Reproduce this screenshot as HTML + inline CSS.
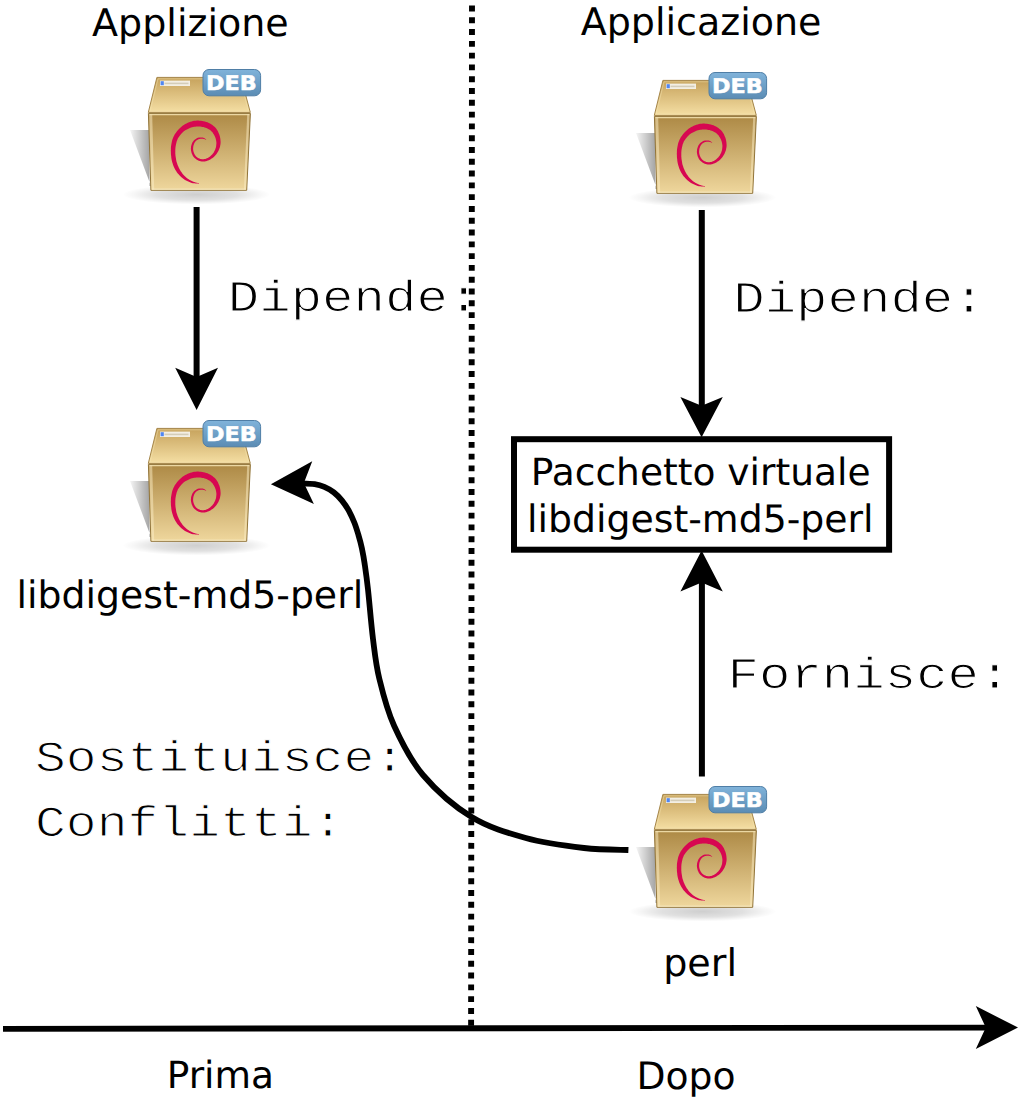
<!DOCTYPE html>
<html lang="it">
<head>
<meta charset="utf-8">
<title>Pacchetto virtuale libdigest-md5-perl</title>
<style>
html,body{margin:0;padding:0;background:#fff;}
svg{display:block;}
text{text-rendering:geometricPrecision;}
</style>
</head>
<body>
<svg width="1024" height="1101" viewBox="0 0 1024 1101">
<defs>
  <radialGradient id="gsh" cx="0.5" cy="0.5" r="0.5">
    <stop offset="0" stop-color="#000" stop-opacity="0.19"/>
    <stop offset="0.55" stop-color="#000" stop-opacity="0.12"/>
    <stop offset="0.85" stop-color="#000" stop-opacity="0.035"/>
    <stop offset="1" stop-color="#000" stop-opacity="0"/>
  </radialGradient>
  <linearGradient id="gls" x1="0" y1="0" x2="1" y2="0">
    <stop offset="0" stop-color="#000" stop-opacity="0.04"/>
    <stop offset="1" stop-color="#000" stop-opacity="0.38"/>
  </linearGradient>
  <linearGradient id="gtop" x1="0" y1="0" x2="0" y2="1">
    <stop offset="0" stop-color="#c6a25c"/>
    <stop offset="1" stop-color="#f5dfa4"/>
  </linearGradient>
  <linearGradient id="gfront" x1="0" y1="0" x2="0" y2="1">
    <stop offset="0" stop-color="#ad8945"/>
    <stop offset="1" stop-color="#efd79d"/>
  </linearGradient>
  <linearGradient id="gbadge" x1="0" y1="0" x2="0" y2="1">
    <stop offset="0" stop-color="#80b3da"/>
    <stop offset="1" stop-color="#5b8cb4"/>
  </linearGradient>
</defs>
<rect width="1024" height="1101" fill="#fff"/>

<!-- monospace labels -->
<text transform="translate(227.8,311.4) scale(1,0.84)" font-family="'Liberation Mono', 'DejaVu Sans Mono', monospace" font-size="52.4" fill="#000" stroke="#fff" stroke-width="1.3">Dipende:</text>
<text transform="translate(733.2,311.6) scale(1,0.84)" font-family="'Liberation Mono', 'DejaVu Sans Mono', monospace" font-size="52.4" fill="#000" stroke="#fff" stroke-width="1.3">Dipende:</text>
<text transform="translate(727.5,688) scale(1,0.84)" font-family="'Liberation Mono', 'DejaVu Sans Mono', monospace" font-size="52.4" fill="#000" stroke="#fff" stroke-width="1.3">Fornisce:</text>
<text transform="translate(35,771) scale(1,0.84)" font-family="'Liberation Mono', 'DejaVu Sans Mono', monospace" font-size="51.4" fill="#000" stroke="#fff" stroke-width="1.3">Sostituisce:</text>
<text transform="translate(35,836) scale(1,0.84)" font-family="'Liberation Mono', 'DejaVu Sans Mono', monospace" font-size="51.4" fill="#000" stroke="#fff" stroke-width="1.3">Conflitti:</text>

<!-- dotted separator -->
<line x1="472" y1="5.5" x2="471.1" y2="1028" stroke="#000" stroke-width="5.9" stroke-dasharray="5.9 5.894"/>

<!-- time axis -->
<line x1="3" y1="1028.9" x2="990" y2="1027.6" stroke="#000" stroke-width="5.9"/>
<polygon transform="translate(1018,1027.5) rotate(0)" points="0,0 -42.2,-21.4 -32.2,0 -42.2,21.4" fill="#000"/>

<!-- sans labels -->
<text x="92.1" y="35.5" font-family="'DejaVu Sans', 'Liberation Sans', sans-serif" font-size="38" text-anchor="start" fill="#000">Applizione</text>
<text x="580.7" y="35" font-family="'DejaVu Sans', 'Liberation Sans', sans-serif" font-size="38" text-anchor="start" fill="#000">Applicazione</text>
<text x="16.5" y="607.5" font-family="'DejaVu Sans', 'Liberation Sans', sans-serif" font-size="37.8" text-anchor="start" fill="#000">libdigest-md5-perl</text>
<text x="700.7" y="484.8" font-family="'DejaVu Sans', 'Liberation Sans', sans-serif" font-size="37.56" text-anchor="middle" fill="#000">Pacchetto virtuale</text>
<text x="700.3" y="531.5" font-family="'DejaVu Sans', 'Liberation Sans', sans-serif" font-size="37.8" text-anchor="middle" fill="#000">libdigest-md5-perl</text>
<text x="663.2" y="975.6" font-family="'DejaVu Sans', 'Liberation Sans', sans-serif" font-size="38.1" text-anchor="start" fill="#000">perl</text>
<text x="166.7" y="1088.1" font-family="'DejaVu Sans', 'Liberation Sans', sans-serif" font-size="37.5" text-anchor="start" fill="#000">Prima</text>
<text x="636.4" y="1089" font-family="'DejaVu Sans', 'Liberation Sans', sans-serif" font-size="37.7" text-anchor="start" fill="#000">Dopo</text>

<!-- virtual package box -->
<rect x="514" y="439.2" width="375.1" height="110.5" fill="none" stroke="#000" stroke-width="6"/>

<!-- arrows -->
<line x1="196.6" y1="207" x2="196.6" y2="380" stroke="#000" stroke-width="6"/>
<polygon transform="translate(196.6,410) rotate(90)" points="0,0 -42.2,-21.4 -33.0,0 -42.2,21.4" fill="#000"/>
<line x1="701.8" y1="210" x2="701.8" y2="412" stroke="#000" stroke-width="6"/>
<polygon transform="translate(701.6,437.3) rotate(90)" points="0,0 -40.4,-21.2 -31.599999999999998,0 -40.4,21.2" fill="#000"/>
<line x1="701.9" y1="776.4" x2="701.9" y2="576" stroke="#000" stroke-width="6"/>
<polygon transform="translate(701.6,550.5) rotate(-90)" points="0,0 -40.9,-21.2 -32.099999999999994,0 -40.9,21.2" fill="#000"/>
<path d="M628.4,850.0 C621.0,849.7 601.1,850.0 584.0,848.0 C566.9,846.0 544.5,843.2 525.8,838.0 C507.1,832.8 488.7,827.5 471.6,817.0 C454.5,806.5 435.9,790.2 423.0,775.0 C410.1,759.8 401.3,741.6 394.0,725.5 C386.7,709.4 382.8,693.0 379.3,678.6 C375.8,664.2 374.9,653.9 373.0,639.0 C371.1,624.1 369.4,602.1 368.0,589.5 C366.6,576.9 365.6,570.4 364.6,563.5 C363.6,556.6 362.9,553.2 361.9,548.4 C360.9,543.6 359.7,539.1 358.4,534.8 C357.1,530.5 355.9,526.5 354.3,522.5 C352.7,518.5 350.9,514.5 348.9,510.8 C346.8,507.2 344.5,503.7 342.0,500.6 C339.5,497.5 336.8,494.7 333.8,492.4 C330.9,490.1 327.5,488.3 324.3,486.9 C321.1,485.5 318.8,484.8 314.7,484.2 C310.6,483.6 302.4,483.4 300.0,483.3" fill="none" stroke="#000" stroke-width="5.8"/>
<polygon transform="translate(270.9,484.2) rotate(177.8)" points="0,0 -42.2,-21.4 -33.0,0 -42.2,21.4" fill="#000"/>

<!-- package icons -->

<g transform="translate(0,0)">
  <ellipse cx="196.5" cy="194.5" rx="74" ry="10" fill="url(#gsh)"/>
  <polygon points="130,130 149.5,130 149.5,186 151,186" fill="url(#gls)"/>
  <polygon points="156.9,77.4 241,77.4 250.3,112.4 148.3,112.4" fill="url(#gtop)" stroke="#a5864a" stroke-width="1" stroke-linejoin="round"/>
  <polygon points="158,78.8 240,78.8 248.6,111.2 150,111.2" fill="none" stroke="#f7e6b4" stroke-opacity="0.45" stroke-width="1"/>
  <polygon points="148.4,113.4 250.4,113.4 246.7,190.3 150.9,190.3" fill="url(#gfront)" stroke="#92753a" stroke-width="1" stroke-linejoin="round"/>
  <polygon points="149.2,114.2 152.2,114.2 154.2,189.5 151.6,189.5" fill="#fbeec6" fill-opacity="0.5"/>
  <polygon points="249.6,114.2 247.2,114.2 243.9,189.5 246,189.5" fill="#fbeec6" fill-opacity="0.5"/>
  <line x1="149.4" y1="114.6" x2="249.4" y2="114.6" stroke="#f6e4b4" stroke-opacity="0.85" stroke-width="1.1"/>
  <line x1="151.8" y1="189.2" x2="245.8" y2="189.2" stroke="#fbefcb" stroke-opacity="0.85" stroke-width="1"/>
  <rect x="160" y="80.6" width="30" height="5.4" fill="#f3efe4"/>
  <rect x="160.6" y="81.2" width="3.2" height="4" fill="#4f86f2"/>
  <rect x="164.5" y="82.6" width="24" height="1.6" fill="#d4cdb8"/>
  <path d="M206.2,139.3 L205.6,139.0 L205.1,138.7 L204.6,138.3 L204.0,138.0 L203.4,137.7 L202.7,137.6 L201.9,137.4 L201.2,137.4 L200.4,137.4 L199.6,137.5 L198.8,137.6 L198.0,137.8 L197.2,138.1 L196.5,138.5 L195.7,138.9 L195.0,139.4 L194.3,140.0 L193.6,140.7 L193.1,141.5 L192.5,142.3 L192.1,143.3 L191.7,144.2 L191.4,145.2 L191.1,146.2 L191.0,147.2 L190.9,148.2 L190.9,149.2 L191.0,150.2 L191.2,151.2 L191.4,152.1 L191.6,153.0 L192.0,153.9 L192.4,154.8 L192.8,155.7 L193.3,156.5 L193.9,157.2 L194.6,157.9 L195.3,158.6 L196.1,159.2 L196.9,159.8 L197.8,160.3 L198.7,160.7 L199.6,161.0 L200.6,161.2 L201.6,161.4 L202.6,161.5 L203.7,161.5 L204.7,161.4 L205.7,161.3 L206.8,161.0 L207.8,160.6 L208.8,160.2 L209.8,159.7 L210.7,159.2 L211.6,158.6 L212.6,158.0 L213.5,157.2 L214.3,156.5 L215.2,155.6 L215.9,154.7 L216.7,153.8 L217.3,152.8 L217.9,151.8 L218.5,150.7 L219.0,149.6 L219.4,148.5 L219.8,147.4 L220.1,146.2 L220.3,145.1 L220.5,143.9 L220.6,142.8 L220.6,141.6 L220.5,140.4 L220.4,139.2 L220.2,138.0 L220.0,136.9 L219.7,135.7 L219.3,134.5 L218.8,133.4 L218.3,132.3 L217.8,131.1 L217.1,130.0 L216.3,128.8 L215.5,127.8 L214.5,126.8 L213.5,125.9 L212.4,125.0 L211.2,124.2 L210.0,123.5 L208.8,122.9 L207.5,122.3 L206.2,121.9 L204.9,121.5 L203.5,121.2 L202.2,121.0 L200.9,120.8 L199.6,120.7 L198.3,120.6 L197.0,120.6 L195.7,120.7 L194.4,120.8 L193.0,121.1 L191.7,121.4 L190.4,121.8 L189.1,122.2 L187.8,122.8 L186.5,123.4 L185.3,124.0 L184.1,124.8 L182.9,125.6 L181.7,126.4 L180.6,127.4 L179.5,128.4 L178.5,129.4 L177.6,130.5 L176.6,131.7 L175.8,132.9 L174.9,134.1 L174.2,135.4 L173.5,136.8 L172.9,138.2 L172.4,139.6 L172.0,141.0 L171.7,142.4 L171.4,143.9 L171.2,145.2 L171.0,146.6 L170.9,148.0 L170.9,149.4 L170.8,150.8 L170.9,152.2 L170.9,153.5 L171.0,154.9 L171.2,156.3 L171.3,157.7 L171.5,159.0 L171.8,160.4 L172.1,161.7 L172.5,163.0 L172.9,164.3 L173.3,165.6 L173.8,166.8 L174.4,168.0 L175.0,169.2 L175.6,170.3 L176.3,171.3 L177.0,172.4 L177.8,173.4 L178.6,174.3 L179.4,175.2 L180.2,176.1 L181.1,176.9 L182.1,177.7 L183.0,178.5 L184.0,179.2 L185.0,179.9 L186.1,180.5 L187.1,181.1 L188.3,181.6 L189.4,182.1 L190.6,182.5 L191.8,182.9 L193.0,183.2 L194.2,183.3 L195.4,183.4 L196.6,183.5 L197.8,183.6 L199.0,183.7 L199.1,183.3 L197.9,183.0 L196.8,182.7 L195.6,182.4 L194.4,182.0 L193.4,181.7 L192.3,181.3 L191.3,180.8 L190.3,180.2 L189.3,179.7 L188.3,179.0 L187.4,178.4 L186.5,177.7 L185.7,177.0 L184.9,176.3 L184.1,175.5 L183.4,174.7 L182.7,173.9 L182.0,173.0 L181.4,172.1 L180.7,171.2 L180.2,170.3 L179.6,169.3 L179.1,168.3 L178.6,167.3 L178.2,166.3 L177.7,165.2 L177.3,164.1 L177.0,163.0 L176.6,161.9 L176.3,160.7 L176.1,159.5 L175.9,158.3 L175.7,157.1 L175.5,155.8 L175.4,154.5 L175.3,153.3 L175.3,152.0 L175.3,150.8 L175.3,149.6 L175.4,148.4 L175.5,147.1 L175.7,145.9 L175.9,144.7 L176.2,143.4 L176.5,142.2 L176.8,141.0 L177.3,139.9 L177.7,138.8 L178.3,137.7 L179.0,136.7 L179.7,135.7 L180.5,134.7 L181.3,133.7 L182.1,132.9 L183.0,132.1 L183.9,131.3 L184.9,130.6 L185.8,130.0 L186.9,129.4 L187.9,128.9 L188.9,128.4 L189.9,128.0 L191.0,127.6 L192.0,127.3 L193.1,127.0 L194.1,126.8 L195.2,126.7 L196.2,126.6 L197.2,126.5 L198.2,126.5 L199.3,126.6 L200.3,126.6 L201.4,126.8 L202.5,126.9 L203.6,127.1 L204.6,127.4 L205.6,127.7 L206.5,128.0 L207.4,128.4 L208.3,128.9 L209.2,129.5 L210.1,130.1 L210.9,130.7 L211.6,131.4 L212.2,132.1 L212.8,132.8 L213.3,133.7 L213.9,134.5 L214.4,135.4 L214.8,136.3 L215.2,137.2 L215.5,138.1 L215.8,139.0 L216.0,140.0 L216.2,140.9 L216.3,141.8 L216.4,142.7 L216.4,143.6 L216.3,144.6 L216.2,145.5 L216.1,146.5 L215.9,147.4 L215.6,148.3 L215.3,149.3 L214.9,150.2 L214.4,151.1 L214.0,152.0 L213.4,152.9 L212.9,153.6 L212.2,154.4 L211.5,155.1 L210.8,155.8 L210.0,156.4 L209.3,157.0 L208.5,157.5 L207.7,157.9 L206.8,158.3 L206.0,158.7 L205.2,158.9 L204.4,159.1 L203.5,159.2 L202.7,159.2 L201.9,159.2 L201.0,159.1 L200.2,158.9 L199.5,158.6 L198.7,158.3 L198.0,157.9 L197.4,157.5 L196.7,157.0 L196.1,156.4 L195.6,155.8 L195.1,155.2 L194.7,154.6 L194.3,153.8 L194.0,153.1 L193.7,152.3 L193.5,151.6 L193.3,150.8 L193.2,149.9 L193.1,149.1 L193.1,148.2 L193.2,147.4 L193.3,146.6 L193.4,145.8 L193.7,144.9 L194.0,144.1 L194.3,143.3 L194.7,142.5 L195.1,141.9 L195.6,141.3 L196.1,140.8 L196.7,140.3 L197.3,139.9 L197.9,139.6 L198.6,139.3 L199.2,139.1 L199.8,138.9 L200.5,138.8 L201.2,138.8 L201.9,138.8 L202.5,138.8 L203.1,138.8 L203.6,139.0 L204.2,139.1 L204.8,139.3 L205.4,139.5 L206.0,139.7Z" fill="#d70751"/>
  <rect x="203" y="69.5" width="57.6" height="26.3" rx="6" ry="6" fill="url(#gbadge)" stroke="#4f7ea6" stroke-width="1"/>
  <text transform="translate(205.9,89.7) scale(1.10,1)" font-family="'DejaVu Sans', 'Liberation Sans', sans-serif" font-weight="bold" font-size="20.3" fill="#fff" stroke="#fff" stroke-width="0.5">DEB</text>
</g>

<g transform="translate(0,351)">
  <ellipse cx="196.5" cy="194.5" rx="74" ry="10" fill="url(#gsh)"/>
  <polygon points="130,130 149.5,130 149.5,186 151,186" fill="url(#gls)"/>
  <polygon points="156.9,77.4 241,77.4 250.3,112.4 148.3,112.4" fill="url(#gtop)" stroke="#a5864a" stroke-width="1" stroke-linejoin="round"/>
  <polygon points="158,78.8 240,78.8 248.6,111.2 150,111.2" fill="none" stroke="#f7e6b4" stroke-opacity="0.45" stroke-width="1"/>
  <polygon points="148.4,113.4 250.4,113.4 246.7,190.3 150.9,190.3" fill="url(#gfront)" stroke="#92753a" stroke-width="1" stroke-linejoin="round"/>
  <polygon points="149.2,114.2 152.2,114.2 154.2,189.5 151.6,189.5" fill="#fbeec6" fill-opacity="0.5"/>
  <polygon points="249.6,114.2 247.2,114.2 243.9,189.5 246,189.5" fill="#fbeec6" fill-opacity="0.5"/>
  <line x1="149.4" y1="114.6" x2="249.4" y2="114.6" stroke="#f6e4b4" stroke-opacity="0.85" stroke-width="1.1"/>
  <line x1="151.8" y1="189.2" x2="245.8" y2="189.2" stroke="#fbefcb" stroke-opacity="0.85" stroke-width="1"/>
  <rect x="160" y="80.6" width="30" height="5.4" fill="#f3efe4"/>
  <rect x="160.6" y="81.2" width="3.2" height="4" fill="#4f86f2"/>
  <rect x="164.5" y="82.6" width="24" height="1.6" fill="#d4cdb8"/>
  <path d="M206.2,139.3 L205.6,139.0 L205.1,138.7 L204.6,138.3 L204.0,138.0 L203.4,137.7 L202.7,137.6 L201.9,137.4 L201.2,137.4 L200.4,137.4 L199.6,137.5 L198.8,137.6 L198.0,137.8 L197.2,138.1 L196.5,138.5 L195.7,138.9 L195.0,139.4 L194.3,140.0 L193.6,140.7 L193.1,141.5 L192.5,142.3 L192.1,143.3 L191.7,144.2 L191.4,145.2 L191.1,146.2 L191.0,147.2 L190.9,148.2 L190.9,149.2 L191.0,150.2 L191.2,151.2 L191.4,152.1 L191.6,153.0 L192.0,153.9 L192.4,154.8 L192.8,155.7 L193.3,156.5 L193.9,157.2 L194.6,157.9 L195.3,158.6 L196.1,159.2 L196.9,159.8 L197.8,160.3 L198.7,160.7 L199.6,161.0 L200.6,161.2 L201.6,161.4 L202.6,161.5 L203.7,161.5 L204.7,161.4 L205.7,161.3 L206.8,161.0 L207.8,160.6 L208.8,160.2 L209.8,159.7 L210.7,159.2 L211.6,158.6 L212.6,158.0 L213.5,157.2 L214.3,156.5 L215.2,155.6 L215.9,154.7 L216.7,153.8 L217.3,152.8 L217.9,151.8 L218.5,150.7 L219.0,149.6 L219.4,148.5 L219.8,147.4 L220.1,146.2 L220.3,145.1 L220.5,143.9 L220.6,142.8 L220.6,141.6 L220.5,140.4 L220.4,139.2 L220.2,138.0 L220.0,136.9 L219.7,135.7 L219.3,134.5 L218.8,133.4 L218.3,132.3 L217.8,131.1 L217.1,130.0 L216.3,128.8 L215.5,127.8 L214.5,126.8 L213.5,125.9 L212.4,125.0 L211.2,124.2 L210.0,123.5 L208.8,122.9 L207.5,122.3 L206.2,121.9 L204.9,121.5 L203.5,121.2 L202.2,121.0 L200.9,120.8 L199.6,120.7 L198.3,120.6 L197.0,120.6 L195.7,120.7 L194.4,120.8 L193.0,121.1 L191.7,121.4 L190.4,121.8 L189.1,122.2 L187.8,122.8 L186.5,123.4 L185.3,124.0 L184.1,124.8 L182.9,125.6 L181.7,126.4 L180.6,127.4 L179.5,128.4 L178.5,129.4 L177.6,130.5 L176.6,131.7 L175.8,132.9 L174.9,134.1 L174.2,135.4 L173.5,136.8 L172.9,138.2 L172.4,139.6 L172.0,141.0 L171.7,142.4 L171.4,143.9 L171.2,145.2 L171.0,146.6 L170.9,148.0 L170.9,149.4 L170.8,150.8 L170.9,152.2 L170.9,153.5 L171.0,154.9 L171.2,156.3 L171.3,157.7 L171.5,159.0 L171.8,160.4 L172.1,161.7 L172.5,163.0 L172.9,164.3 L173.3,165.6 L173.8,166.8 L174.4,168.0 L175.0,169.2 L175.6,170.3 L176.3,171.3 L177.0,172.4 L177.8,173.4 L178.6,174.3 L179.4,175.2 L180.2,176.1 L181.1,176.9 L182.1,177.7 L183.0,178.5 L184.0,179.2 L185.0,179.9 L186.1,180.5 L187.1,181.1 L188.3,181.6 L189.4,182.1 L190.6,182.5 L191.8,182.9 L193.0,183.2 L194.2,183.3 L195.4,183.4 L196.6,183.5 L197.8,183.6 L199.0,183.7 L199.1,183.3 L197.9,183.0 L196.8,182.7 L195.6,182.4 L194.4,182.0 L193.4,181.7 L192.3,181.3 L191.3,180.8 L190.3,180.2 L189.3,179.7 L188.3,179.0 L187.4,178.4 L186.5,177.7 L185.7,177.0 L184.9,176.3 L184.1,175.5 L183.4,174.7 L182.7,173.9 L182.0,173.0 L181.4,172.1 L180.7,171.2 L180.2,170.3 L179.6,169.3 L179.1,168.3 L178.6,167.3 L178.2,166.3 L177.7,165.2 L177.3,164.1 L177.0,163.0 L176.6,161.9 L176.3,160.7 L176.1,159.5 L175.9,158.3 L175.7,157.1 L175.5,155.8 L175.4,154.5 L175.3,153.3 L175.3,152.0 L175.3,150.8 L175.3,149.6 L175.4,148.4 L175.5,147.1 L175.7,145.9 L175.9,144.7 L176.2,143.4 L176.5,142.2 L176.8,141.0 L177.3,139.9 L177.7,138.8 L178.3,137.7 L179.0,136.7 L179.7,135.7 L180.5,134.7 L181.3,133.7 L182.1,132.9 L183.0,132.1 L183.9,131.3 L184.9,130.6 L185.8,130.0 L186.9,129.4 L187.9,128.9 L188.9,128.4 L189.9,128.0 L191.0,127.6 L192.0,127.3 L193.1,127.0 L194.1,126.8 L195.2,126.7 L196.2,126.6 L197.2,126.5 L198.2,126.5 L199.3,126.6 L200.3,126.6 L201.4,126.8 L202.5,126.9 L203.6,127.1 L204.6,127.4 L205.6,127.7 L206.5,128.0 L207.4,128.4 L208.3,128.9 L209.2,129.5 L210.1,130.1 L210.9,130.7 L211.6,131.4 L212.2,132.1 L212.8,132.8 L213.3,133.7 L213.9,134.5 L214.4,135.4 L214.8,136.3 L215.2,137.2 L215.5,138.1 L215.8,139.0 L216.0,140.0 L216.2,140.9 L216.3,141.8 L216.4,142.7 L216.4,143.6 L216.3,144.6 L216.2,145.5 L216.1,146.5 L215.9,147.4 L215.6,148.3 L215.3,149.3 L214.9,150.2 L214.4,151.1 L214.0,152.0 L213.4,152.9 L212.9,153.6 L212.2,154.4 L211.5,155.1 L210.8,155.8 L210.0,156.4 L209.3,157.0 L208.5,157.5 L207.7,157.9 L206.8,158.3 L206.0,158.7 L205.2,158.9 L204.4,159.1 L203.5,159.2 L202.7,159.2 L201.9,159.2 L201.0,159.1 L200.2,158.9 L199.5,158.6 L198.7,158.3 L198.0,157.9 L197.4,157.5 L196.7,157.0 L196.1,156.4 L195.6,155.8 L195.1,155.2 L194.7,154.6 L194.3,153.8 L194.0,153.1 L193.7,152.3 L193.5,151.6 L193.3,150.8 L193.2,149.9 L193.1,149.1 L193.1,148.2 L193.2,147.4 L193.3,146.6 L193.4,145.8 L193.7,144.9 L194.0,144.1 L194.3,143.3 L194.7,142.5 L195.1,141.9 L195.6,141.3 L196.1,140.8 L196.7,140.3 L197.3,139.9 L197.9,139.6 L198.6,139.3 L199.2,139.1 L199.8,138.9 L200.5,138.8 L201.2,138.8 L201.9,138.8 L202.5,138.8 L203.1,138.8 L203.6,139.0 L204.2,139.1 L204.8,139.3 L205.4,139.5 L206.0,139.7Z" fill="#d70751"/>
  <rect x="203" y="69.5" width="57.6" height="26.3" rx="6" ry="6" fill="url(#gbadge)" stroke="#4f7ea6" stroke-width="1"/>
  <text transform="translate(205.9,89.7) scale(1.10,1)" font-family="'DejaVu Sans', 'Liberation Sans', sans-serif" font-weight="bold" font-size="20.3" fill="#fff" stroke="#fff" stroke-width="0.5">DEB</text>
</g>

<g transform="translate(506,3)">
  <ellipse cx="196.5" cy="194.5" rx="74" ry="10" fill="url(#gsh)"/>
  <polygon points="130,130 149.5,130 149.5,186 151,186" fill="url(#gls)"/>
  <polygon points="156.9,77.4 241,77.4 250.3,112.4 148.3,112.4" fill="url(#gtop)" stroke="#a5864a" stroke-width="1" stroke-linejoin="round"/>
  <polygon points="158,78.8 240,78.8 248.6,111.2 150,111.2" fill="none" stroke="#f7e6b4" stroke-opacity="0.45" stroke-width="1"/>
  <polygon points="148.4,113.4 250.4,113.4 246.7,190.3 150.9,190.3" fill="url(#gfront)" stroke="#92753a" stroke-width="1" stroke-linejoin="round"/>
  <polygon points="149.2,114.2 152.2,114.2 154.2,189.5 151.6,189.5" fill="#fbeec6" fill-opacity="0.5"/>
  <polygon points="249.6,114.2 247.2,114.2 243.9,189.5 246,189.5" fill="#fbeec6" fill-opacity="0.5"/>
  <line x1="149.4" y1="114.6" x2="249.4" y2="114.6" stroke="#f6e4b4" stroke-opacity="0.85" stroke-width="1.1"/>
  <line x1="151.8" y1="189.2" x2="245.8" y2="189.2" stroke="#fbefcb" stroke-opacity="0.85" stroke-width="1"/>
  <rect x="160" y="80.6" width="30" height="5.4" fill="#f3efe4"/>
  <rect x="160.6" y="81.2" width="3.2" height="4" fill="#4f86f2"/>
  <rect x="164.5" y="82.6" width="24" height="1.6" fill="#d4cdb8"/>
  <path d="M206.2,139.3 L205.6,139.0 L205.1,138.7 L204.6,138.3 L204.0,138.0 L203.4,137.7 L202.7,137.6 L201.9,137.4 L201.2,137.4 L200.4,137.4 L199.6,137.5 L198.8,137.6 L198.0,137.8 L197.2,138.1 L196.5,138.5 L195.7,138.9 L195.0,139.4 L194.3,140.0 L193.6,140.7 L193.1,141.5 L192.5,142.3 L192.1,143.3 L191.7,144.2 L191.4,145.2 L191.1,146.2 L191.0,147.2 L190.9,148.2 L190.9,149.2 L191.0,150.2 L191.2,151.2 L191.4,152.1 L191.6,153.0 L192.0,153.9 L192.4,154.8 L192.8,155.7 L193.3,156.5 L193.9,157.2 L194.6,157.9 L195.3,158.6 L196.1,159.2 L196.9,159.8 L197.8,160.3 L198.7,160.7 L199.6,161.0 L200.6,161.2 L201.6,161.4 L202.6,161.5 L203.7,161.5 L204.7,161.4 L205.7,161.3 L206.8,161.0 L207.8,160.6 L208.8,160.2 L209.8,159.7 L210.7,159.2 L211.6,158.6 L212.6,158.0 L213.5,157.2 L214.3,156.5 L215.2,155.6 L215.9,154.7 L216.7,153.8 L217.3,152.8 L217.9,151.8 L218.5,150.7 L219.0,149.6 L219.4,148.5 L219.8,147.4 L220.1,146.2 L220.3,145.1 L220.5,143.9 L220.6,142.8 L220.6,141.6 L220.5,140.4 L220.4,139.2 L220.2,138.0 L220.0,136.9 L219.7,135.7 L219.3,134.5 L218.8,133.4 L218.3,132.3 L217.8,131.1 L217.1,130.0 L216.3,128.8 L215.5,127.8 L214.5,126.8 L213.5,125.9 L212.4,125.0 L211.2,124.2 L210.0,123.5 L208.8,122.9 L207.5,122.3 L206.2,121.9 L204.9,121.5 L203.5,121.2 L202.2,121.0 L200.9,120.8 L199.6,120.7 L198.3,120.6 L197.0,120.6 L195.7,120.7 L194.4,120.8 L193.0,121.1 L191.7,121.4 L190.4,121.8 L189.1,122.2 L187.8,122.8 L186.5,123.4 L185.3,124.0 L184.1,124.8 L182.9,125.6 L181.7,126.4 L180.6,127.4 L179.5,128.4 L178.5,129.4 L177.6,130.5 L176.6,131.7 L175.8,132.9 L174.9,134.1 L174.2,135.4 L173.5,136.8 L172.9,138.2 L172.4,139.6 L172.0,141.0 L171.7,142.4 L171.4,143.9 L171.2,145.2 L171.0,146.6 L170.9,148.0 L170.9,149.4 L170.8,150.8 L170.9,152.2 L170.9,153.5 L171.0,154.9 L171.2,156.3 L171.3,157.7 L171.5,159.0 L171.8,160.4 L172.1,161.7 L172.5,163.0 L172.9,164.3 L173.3,165.6 L173.8,166.8 L174.4,168.0 L175.0,169.2 L175.6,170.3 L176.3,171.3 L177.0,172.4 L177.8,173.4 L178.6,174.3 L179.4,175.2 L180.2,176.1 L181.1,176.9 L182.1,177.7 L183.0,178.5 L184.0,179.2 L185.0,179.9 L186.1,180.5 L187.1,181.1 L188.3,181.6 L189.4,182.1 L190.6,182.5 L191.8,182.9 L193.0,183.2 L194.2,183.3 L195.4,183.4 L196.6,183.5 L197.8,183.6 L199.0,183.7 L199.1,183.3 L197.9,183.0 L196.8,182.7 L195.6,182.4 L194.4,182.0 L193.4,181.7 L192.3,181.3 L191.3,180.8 L190.3,180.2 L189.3,179.7 L188.3,179.0 L187.4,178.4 L186.5,177.7 L185.7,177.0 L184.9,176.3 L184.1,175.5 L183.4,174.7 L182.7,173.9 L182.0,173.0 L181.4,172.1 L180.7,171.2 L180.2,170.3 L179.6,169.3 L179.1,168.3 L178.6,167.3 L178.2,166.3 L177.7,165.2 L177.3,164.1 L177.0,163.0 L176.6,161.9 L176.3,160.7 L176.1,159.5 L175.9,158.3 L175.7,157.1 L175.5,155.8 L175.4,154.5 L175.3,153.3 L175.3,152.0 L175.3,150.8 L175.3,149.6 L175.4,148.4 L175.5,147.1 L175.7,145.9 L175.9,144.7 L176.2,143.4 L176.5,142.2 L176.8,141.0 L177.3,139.9 L177.7,138.8 L178.3,137.7 L179.0,136.7 L179.7,135.7 L180.5,134.7 L181.3,133.7 L182.1,132.9 L183.0,132.1 L183.9,131.3 L184.9,130.6 L185.8,130.0 L186.9,129.4 L187.9,128.9 L188.9,128.4 L189.9,128.0 L191.0,127.6 L192.0,127.3 L193.1,127.0 L194.1,126.8 L195.2,126.7 L196.2,126.6 L197.2,126.5 L198.2,126.5 L199.3,126.6 L200.3,126.6 L201.4,126.8 L202.5,126.9 L203.6,127.1 L204.6,127.4 L205.6,127.7 L206.5,128.0 L207.4,128.4 L208.3,128.9 L209.2,129.5 L210.1,130.1 L210.9,130.7 L211.6,131.4 L212.2,132.1 L212.8,132.8 L213.3,133.7 L213.9,134.5 L214.4,135.4 L214.8,136.3 L215.2,137.2 L215.5,138.1 L215.8,139.0 L216.0,140.0 L216.2,140.9 L216.3,141.8 L216.4,142.7 L216.4,143.6 L216.3,144.6 L216.2,145.5 L216.1,146.5 L215.9,147.4 L215.6,148.3 L215.3,149.3 L214.9,150.2 L214.4,151.1 L214.0,152.0 L213.4,152.9 L212.9,153.6 L212.2,154.4 L211.5,155.1 L210.8,155.8 L210.0,156.4 L209.3,157.0 L208.5,157.5 L207.7,157.9 L206.8,158.3 L206.0,158.7 L205.2,158.9 L204.4,159.1 L203.5,159.2 L202.7,159.2 L201.9,159.2 L201.0,159.1 L200.2,158.9 L199.5,158.6 L198.7,158.3 L198.0,157.9 L197.4,157.5 L196.7,157.0 L196.1,156.4 L195.6,155.8 L195.1,155.2 L194.7,154.6 L194.3,153.8 L194.0,153.1 L193.7,152.3 L193.5,151.6 L193.3,150.8 L193.2,149.9 L193.1,149.1 L193.1,148.2 L193.2,147.4 L193.3,146.6 L193.4,145.8 L193.7,144.9 L194.0,144.1 L194.3,143.3 L194.7,142.5 L195.1,141.9 L195.6,141.3 L196.1,140.8 L196.7,140.3 L197.3,139.9 L197.9,139.6 L198.6,139.3 L199.2,139.1 L199.8,138.9 L200.5,138.8 L201.2,138.8 L201.9,138.8 L202.5,138.8 L203.1,138.8 L203.6,139.0 L204.2,139.1 L204.8,139.3 L205.4,139.5 L206.0,139.7Z" fill="#d70751"/>
  <rect x="203" y="69.5" width="57.6" height="26.3" rx="6" ry="6" fill="url(#gbadge)" stroke="#4f7ea6" stroke-width="1"/>
  <text transform="translate(205.9,89.7) scale(1.10,1)" font-family="'DejaVu Sans', 'Liberation Sans', sans-serif" font-weight="bold" font-size="20.3" fill="#fff" stroke="#fff" stroke-width="0.5">DEB</text>
</g>

<g transform="translate(506,717)">
  <ellipse cx="196.5" cy="194.5" rx="74" ry="10" fill="url(#gsh)"/>
  <polygon points="130,130 149.5,130 149.5,186 151,186" fill="url(#gls)"/>
  <polygon points="156.9,77.4 241,77.4 250.3,112.4 148.3,112.4" fill="url(#gtop)" stroke="#a5864a" stroke-width="1" stroke-linejoin="round"/>
  <polygon points="158,78.8 240,78.8 248.6,111.2 150,111.2" fill="none" stroke="#f7e6b4" stroke-opacity="0.45" stroke-width="1"/>
  <polygon points="148.4,113.4 250.4,113.4 246.7,190.3 150.9,190.3" fill="url(#gfront)" stroke="#92753a" stroke-width="1" stroke-linejoin="round"/>
  <polygon points="149.2,114.2 152.2,114.2 154.2,189.5 151.6,189.5" fill="#fbeec6" fill-opacity="0.5"/>
  <polygon points="249.6,114.2 247.2,114.2 243.9,189.5 246,189.5" fill="#fbeec6" fill-opacity="0.5"/>
  <line x1="149.4" y1="114.6" x2="249.4" y2="114.6" stroke="#f6e4b4" stroke-opacity="0.85" stroke-width="1.1"/>
  <line x1="151.8" y1="189.2" x2="245.8" y2="189.2" stroke="#fbefcb" stroke-opacity="0.85" stroke-width="1"/>
  <rect x="160" y="80.6" width="30" height="5.4" fill="#f3efe4"/>
  <rect x="160.6" y="81.2" width="3.2" height="4" fill="#4f86f2"/>
  <rect x="164.5" y="82.6" width="24" height="1.6" fill="#d4cdb8"/>
  <path d="M206.2,139.3 L205.6,139.0 L205.1,138.7 L204.6,138.3 L204.0,138.0 L203.4,137.7 L202.7,137.6 L201.9,137.4 L201.2,137.4 L200.4,137.4 L199.6,137.5 L198.8,137.6 L198.0,137.8 L197.2,138.1 L196.5,138.5 L195.7,138.9 L195.0,139.4 L194.3,140.0 L193.6,140.7 L193.1,141.5 L192.5,142.3 L192.1,143.3 L191.7,144.2 L191.4,145.2 L191.1,146.2 L191.0,147.2 L190.9,148.2 L190.9,149.2 L191.0,150.2 L191.2,151.2 L191.4,152.1 L191.6,153.0 L192.0,153.9 L192.4,154.8 L192.8,155.7 L193.3,156.5 L193.9,157.2 L194.6,157.9 L195.3,158.6 L196.1,159.2 L196.9,159.8 L197.8,160.3 L198.7,160.7 L199.6,161.0 L200.6,161.2 L201.6,161.4 L202.6,161.5 L203.7,161.5 L204.7,161.4 L205.7,161.3 L206.8,161.0 L207.8,160.6 L208.8,160.2 L209.8,159.7 L210.7,159.2 L211.6,158.6 L212.6,158.0 L213.5,157.2 L214.3,156.5 L215.2,155.6 L215.9,154.7 L216.7,153.8 L217.3,152.8 L217.9,151.8 L218.5,150.7 L219.0,149.6 L219.4,148.5 L219.8,147.4 L220.1,146.2 L220.3,145.1 L220.5,143.9 L220.6,142.8 L220.6,141.6 L220.5,140.4 L220.4,139.2 L220.2,138.0 L220.0,136.9 L219.7,135.7 L219.3,134.5 L218.8,133.4 L218.3,132.3 L217.8,131.1 L217.1,130.0 L216.3,128.8 L215.5,127.8 L214.5,126.8 L213.5,125.9 L212.4,125.0 L211.2,124.2 L210.0,123.5 L208.8,122.9 L207.5,122.3 L206.2,121.9 L204.9,121.5 L203.5,121.2 L202.2,121.0 L200.9,120.8 L199.6,120.7 L198.3,120.6 L197.0,120.6 L195.7,120.7 L194.4,120.8 L193.0,121.1 L191.7,121.4 L190.4,121.8 L189.1,122.2 L187.8,122.8 L186.5,123.4 L185.3,124.0 L184.1,124.8 L182.9,125.6 L181.7,126.4 L180.6,127.4 L179.5,128.4 L178.5,129.4 L177.6,130.5 L176.6,131.7 L175.8,132.9 L174.9,134.1 L174.2,135.4 L173.5,136.8 L172.9,138.2 L172.4,139.6 L172.0,141.0 L171.7,142.4 L171.4,143.9 L171.2,145.2 L171.0,146.6 L170.9,148.0 L170.9,149.4 L170.8,150.8 L170.9,152.2 L170.9,153.5 L171.0,154.9 L171.2,156.3 L171.3,157.7 L171.5,159.0 L171.8,160.4 L172.1,161.7 L172.5,163.0 L172.9,164.3 L173.3,165.6 L173.8,166.8 L174.4,168.0 L175.0,169.2 L175.6,170.3 L176.3,171.3 L177.0,172.4 L177.8,173.4 L178.6,174.3 L179.4,175.2 L180.2,176.1 L181.1,176.9 L182.1,177.7 L183.0,178.5 L184.0,179.2 L185.0,179.9 L186.1,180.5 L187.1,181.1 L188.3,181.6 L189.4,182.1 L190.6,182.5 L191.8,182.9 L193.0,183.2 L194.2,183.3 L195.4,183.4 L196.6,183.5 L197.8,183.6 L199.0,183.7 L199.1,183.3 L197.9,183.0 L196.8,182.7 L195.6,182.4 L194.4,182.0 L193.4,181.7 L192.3,181.3 L191.3,180.8 L190.3,180.2 L189.3,179.7 L188.3,179.0 L187.4,178.4 L186.5,177.7 L185.7,177.0 L184.9,176.3 L184.1,175.5 L183.4,174.7 L182.7,173.9 L182.0,173.0 L181.4,172.1 L180.7,171.2 L180.2,170.3 L179.6,169.3 L179.1,168.3 L178.6,167.3 L178.2,166.3 L177.7,165.2 L177.3,164.1 L177.0,163.0 L176.6,161.9 L176.3,160.7 L176.1,159.5 L175.9,158.3 L175.7,157.1 L175.5,155.8 L175.4,154.5 L175.3,153.3 L175.3,152.0 L175.3,150.8 L175.3,149.6 L175.4,148.4 L175.5,147.1 L175.7,145.9 L175.9,144.7 L176.2,143.4 L176.5,142.2 L176.8,141.0 L177.3,139.9 L177.7,138.8 L178.3,137.7 L179.0,136.7 L179.7,135.7 L180.5,134.7 L181.3,133.7 L182.1,132.9 L183.0,132.1 L183.9,131.3 L184.9,130.6 L185.8,130.0 L186.9,129.4 L187.9,128.9 L188.9,128.4 L189.9,128.0 L191.0,127.6 L192.0,127.3 L193.1,127.0 L194.1,126.8 L195.2,126.7 L196.2,126.6 L197.2,126.5 L198.2,126.5 L199.3,126.6 L200.3,126.6 L201.4,126.8 L202.5,126.9 L203.6,127.1 L204.6,127.4 L205.6,127.7 L206.5,128.0 L207.4,128.4 L208.3,128.9 L209.2,129.5 L210.1,130.1 L210.9,130.7 L211.6,131.4 L212.2,132.1 L212.8,132.8 L213.3,133.7 L213.9,134.5 L214.4,135.4 L214.8,136.3 L215.2,137.2 L215.5,138.1 L215.8,139.0 L216.0,140.0 L216.2,140.9 L216.3,141.8 L216.4,142.7 L216.4,143.6 L216.3,144.6 L216.2,145.5 L216.1,146.5 L215.9,147.4 L215.6,148.3 L215.3,149.3 L214.9,150.2 L214.4,151.1 L214.0,152.0 L213.4,152.9 L212.9,153.6 L212.2,154.4 L211.5,155.1 L210.8,155.8 L210.0,156.4 L209.3,157.0 L208.5,157.5 L207.7,157.9 L206.8,158.3 L206.0,158.7 L205.2,158.9 L204.4,159.1 L203.5,159.2 L202.7,159.2 L201.9,159.2 L201.0,159.1 L200.2,158.9 L199.5,158.6 L198.7,158.3 L198.0,157.9 L197.4,157.5 L196.7,157.0 L196.1,156.4 L195.6,155.8 L195.1,155.2 L194.7,154.6 L194.3,153.8 L194.0,153.1 L193.7,152.3 L193.5,151.6 L193.3,150.8 L193.2,149.9 L193.1,149.1 L193.1,148.2 L193.2,147.4 L193.3,146.6 L193.4,145.8 L193.7,144.9 L194.0,144.1 L194.3,143.3 L194.7,142.5 L195.1,141.9 L195.6,141.3 L196.1,140.8 L196.7,140.3 L197.3,139.9 L197.9,139.6 L198.6,139.3 L199.2,139.1 L199.8,138.9 L200.5,138.8 L201.2,138.8 L201.9,138.8 L202.5,138.8 L203.1,138.8 L203.6,139.0 L204.2,139.1 L204.8,139.3 L205.4,139.5 L206.0,139.7Z" fill="#d70751"/>
  <rect x="203" y="69.5" width="57.6" height="26.3" rx="6" ry="6" fill="url(#gbadge)" stroke="#4f7ea6" stroke-width="1"/>
  <text transform="translate(205.9,89.7) scale(1.10,1)" font-family="'DejaVu Sans', 'Liberation Sans', sans-serif" font-weight="bold" font-size="20.3" fill="#fff" stroke="#fff" stroke-width="0.5">DEB</text>
</g>
</svg>
</body>
</html>
